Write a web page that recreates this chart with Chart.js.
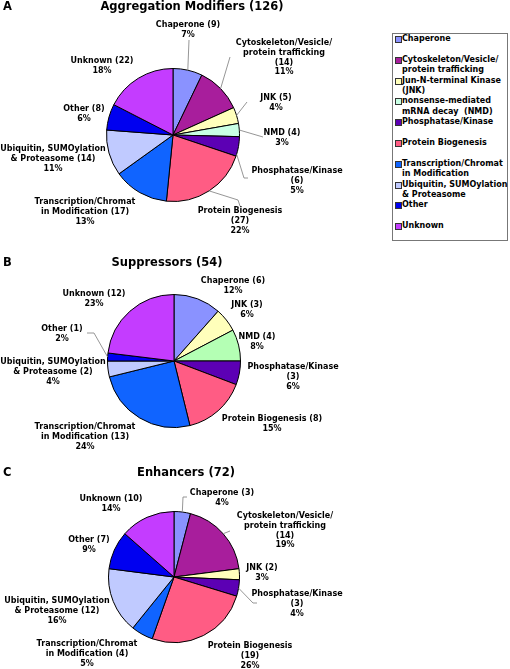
<!DOCTYPE html>
<html>
<head>
<meta charset="utf-8">
<script src="https://cdn.jsdelivr.net/npm/chart.js@4/dist/chart.umd.min.js"></script>
<style>
  body { margin: 0; background: #fff; }
  #page { position: relative; width: 510px; height: 669px; overflow: hidden; font-family: "DejaVu Sans", sans-serif; font-weight: bold; color: #000; }
  canvas { position: absolute; left: 0; top: 0; }
  .panel { position: absolute; font-size: 11.5px; line-height: 14px; }
  .title { position: absolute; font-size: 11.5px; line-height: 14px; transform: translateX(-50%); white-space: nowrap; }
  #legend { position: absolute; left: 392px; top: 33px; width: 114px; height: 206px; border: 1px solid #777; }
  .item { position: absolute; left: 1px; font-size: 8px; line-height: 10.3px; white-space: pre; }
  .sw { position: absolute; left: 1px; top: 2px; width: 5px; height: 5px; border: 1px solid #333; }
  .txt { position: absolute; left: 8px; top: 0; }
</style>
</head>
<body>
<div id="page">
  <canvas id="chartA" width="390" height="669"></canvas>
  <canvas id="chartB" width="390" height="669"></canvas>
  <canvas id="chartC" width="390" height="669"></canvas>
  <div class="panel" style="left:3px; top:-1px;">A</div>
  <div class="title" style="left:192px; top:-1px;">Aggregation Modifiers (126)</div>
  <div class="panel" style="left:3px; top:255px;">B</div>
  <div class="title" style="left:167px; top:255px;">Suppressors (54)</div>
  <div class="panel" style="left:3px; top:465px;">C</div>
  <div class="title" style="left:186px; top:465px;">Enhancers (72)</div>
  <div id="legend"></div>
</div>
<script>
// Gene categories, same order in every pie (clockwise from 12 o'clock)
const categories = [
    'Chaperone',
    'Cytoskeleton/Vesicle/\nprotein trafficking',
    'Jun-N-terminal Kinase\n(JNK)',
    'nonsense-mediated\nmRNA decay  (NMD)',
    'Phosphatase/Kinase',
    'Protein Biogenesis',
    'Transcription/Chromat\nin Modification',
    'Ubiquitin, SUMOylation\n& Proteasome',
    'Other',
    'Unknown'
];

// counts and printed percentages per panel
const aggregationCounts = [9, 14, 5, 4, 6, 27, 17, 14, 8, 22];
const aggregationPercents = [7, 11, 4, 3, 5, 22, 13, 11, 6, 18];
const suppressorCounts = [6, 0, 3, 4, 3, 8, 13, 2, 1, 12];
const suppressorPercents = [12, null, 6, 8, 6, 15, 24, 4, 2, 23];
const enhancerCounts = [3, 14, 2, 0, 3, 19, 4, 12, 7, 10];
const enhancerPercents = [4, 19, 3, null, 4, 26, 5, 16, 9, 14];

const colors = ['#8a92ff', '#a81e9c', '#ffffbb', '#c8ffe4', '#5c00b4',
                '#ff5c84', '#1064ff', '#c0caff', '#0000f0', '#c43cff'];
// panel B draws NMD in a greener tint
const colorsB = colors.slice();
colorsB[3] = '#b4ffb4';

const LABEL_FONT = 'bold 8px "DejaVu Sans"';
const LINE_GAP = 9.8;

// Outside labels with optional leader lines (line ends on the arc edge)
function labelPlugin(items, percents) {
    return {
        id: 'pieLabels',
        afterDatasetsDraw(chart) {
            const ctx = chart.ctx;
            const arcs = chart.getDatasetMeta(0).data;
            const counts = chart.data.datasets[0].data;
            ctx.save();
            ctx.font = LABEL_FONT;
            ctx.fillStyle = '#000';
            ctx.textAlign = 'center';
            ctx.textBaseline = 'middle';
            items.forEach(item => {
                item.lines.forEach((s, k) => {
                    const text = s.replace('{n}', counts[item.i]).replace('{p}', percents[item.i]);
                    ctx.fillText(text, item.x, item.y + k * LINE_GAP);
                });
                if (item.lead) {
                    const arc = arcs[item.i];
                    const f = item.at ?? 0.5;
                    const a = arc.startAngle + (arc.endAngle - arc.startAngle) * f;
                    const ex = arc.x + Math.cos(a) * arc.outerRadius;
                    const ey = arc.y + Math.sin(a) * arc.outerRadius;
                    ctx.beginPath();
                    ctx.moveTo(item.lead[0][0], item.lead[0][1]);
                    item.lead.slice(1).forEach(p => ctx.lineTo(p[0], p[1]));
                    ctx.lineTo(ex, ey);
                    ctx.strokeStyle = '#8a8a8a';
                    ctx.lineWidth = 0.9;
                    ctx.stroke();
                }
            });
            ctx.restore();
        }
    };
}

function makePie(id, counts, percents, palette, padding, items) {
    new Chart(document.getElementById(id), {
        type: 'pie',
        data: {
            labels: categories,
            datasets: [{
                data: counts,
                backgroundColor: palette,
                borderColor: '#000',
                borderWidth: 1
            }]
        },
        options: {
            responsive: false,
            animation: false,
            events: [],
            layout: { padding: padding },
            plugins: {
                legend: { display: false },
                tooltip: { enabled: false }
            }
        },
        plugins: [labelPlugin(items, percents)]
    });
}

const twoLine = name => [name + ' ({n})', '{p}%'];
const cytoLines = ['Cytoskeleton/Vesicle/', 'protein trafficking', '({n})', '{p}%'];
const phosLines = ['Phosphatase/Kinase', '({n})', '{p}%'];
const transLines = ['Transcription/Chromat', 'in Modification ({n})', '{p}%'];
const ubiqLines = ['Ubiquitin, SUMOylation', '& Proteasome ({n})', '{p}%'];

document.addEventListener('DOMContentLoaded', () => {
    // A: Aggregation modifiers
    makePie('chartA', aggregationCounts, aggregationPercents, colors,
        { left: 106, top: 68, right: 150, bottom: 467 }, [
        { i: 0, lines: twoLine('Chaperone'), x: 188, y: 25, lead: [[189, 40]] },
        { i: 1, lines: cytoLines, x: 284, y: 43, lead: [[230, 57]] },
        { i: 2, lines: twoLine('JNK'), x: 276, y: 98, lead: [[247, 102]] },
        { i: 3, lines: twoLine('NMD'), x: 282, y: 133, lead: [[263, 137]] },
        { i: 4, lines: phosLines, x: 297, y: 171, lead: [[248, 178], [244, 178]], at: 0.9 },
        { i: 5, lines: ['Protein Biogenesis', '({n})', '{p}%'], x: 240, y: 211, lead: [[240, 206], [238, 200]] },
        { i: 6, lines: transLines, x: 85, y: 202 },
        { i: 7, lines: ubiqLines, x: 53, y: 149 },
        { i: 8, lines: twoLine('Other'), x: 84, y: 109 },
        { i: 9, lines: twoLine('Unknown'), x: 102, y: 61 }
    ]);

    // B: Suppressors
    makePie('chartB', suppressorCounts, suppressorPercents, colorsB,
        { left: 107, top: 294, right: 149, bottom: 241 }, [
        { i: 0, lines: twoLine('Chaperone'), x: 233, y: 281 },
        { i: 2, lines: twoLine('JNK'), x: 247, y: 305 },
        { i: 3, lines: twoLine('NMD'), x: 257, y: 337 },
        { i: 4, lines: phosLines, x: 293, y: 367 },
        { i: 5, lines: twoLine('Protein Biogenesis'), x: 272, y: 419 },
        { i: 6, lines: transLines, x: 85, y: 427 },
        { i: 7, lines: ubiqLines, x: 53, y: 362 },
        { i: 8, lines: twoLine('Other'), x: 62, y: 329, lead: [[87, 333], [94, 333]] },
        { i: 9, lines: twoLine('Unknown'), x: 94, y: 294 }
    ]);

    // C: Enhancers
    makePie('chartC', enhancerCounts, enhancerPercents, colors,
        { left: 108, top: 511, right: 150, bottom: 26 }, [
        { i: 0, lines: twoLine('Chaperone'), x: 222, y: 493, lead: [[187, 497], [183, 497]] },
        { i: 1, lines: cytoLines, x: 285, y: 516, lead: [[230, 531]] },
        { i: 2, lines: twoLine('JNK'), x: 262, y: 568 },
        { i: 4, lines: phosLines, x: 297, y: 594, lead: [[257, 603], [253, 603]] },
        { i: 5, lines: ['Protein Biogenesis', '({n})', '{p}%'], x: 250, y: 646 },
        { i: 6, lines: transLines, x: 87, y: 644 },
        { i: 7, lines: ubiqLines, x: 57, y: 601 },
        { i: 8, lines: twoLine('Other'), x: 89, y: 540 },
        { i: 9, lines: twoLine('Unknown'), x: 111, y: 499 }
    ]);

    // shared legend
    const legend = document.getElementById('legend');
    categories.forEach((name, k) => {
        const item = document.createElement('div');
        item.className = 'item';
        item.style.top = (k * 20.8) + 'px';
        item.innerHTML = '<div class="sw" style="background:' + colors[k] + '"></div>';
        const txt = document.createElement('div');
        txt.className = 'txt';
        txt.textContent = name;
        item.appendChild(txt);
        legend.appendChild(item);
    });
});
</script>
</body>
</html>
